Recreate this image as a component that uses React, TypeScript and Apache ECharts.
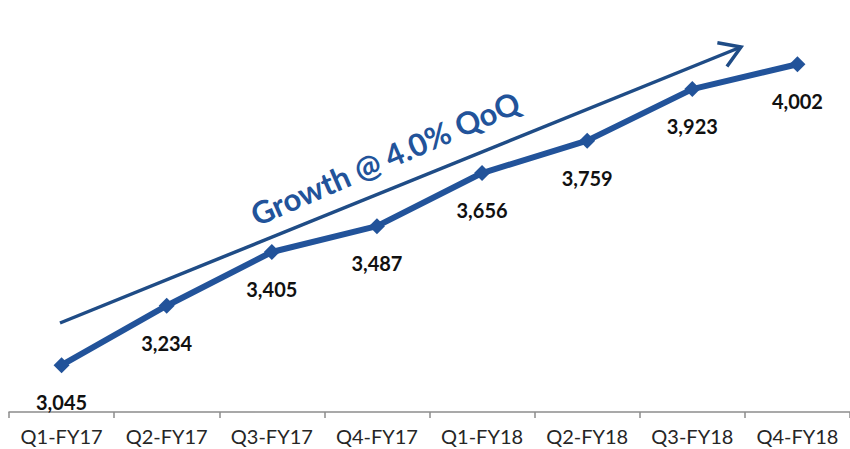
import React, { useEffect, useRef } from "react";
import * as echarts from "echarts";

const categories = ["Q1-FY17", "Q2-FY17", "Q3-FY17", "Q4-FY17", "Q1-FY18", "Q2-FY18", "Q3-FY18", "Q4-FY18"];
const values = [3045, 3234, 3405, 3487, 3656, 3759, 3923, 4002];
const annotation = "Growth @ 4.0% QoQ";

const LINE_COLOR = "#22539A";
const ARROW_COLOR = "#1F4C86";
const FONT = "Lato, 'Noto Sans', sans-serif";

export default function App() {
  const ref = useRef<HTMLDivElement>(null);
  useEffect(() => {
    if (!ref.current) return;
    const chart = echarts.init(ref.current, undefined, { renderer: "svg" });
    // arrow geometry
    const x1 = 60, y1 = 323, x2 = 741, y2 = 47;
    const ang = Math.atan2(y2 - y1, x2 - x1);
    const back = ang + Math.PI;
    const spread = 0.56, len = 24;
    const a1 = [x2 + len * Math.cos(back + spread), y2 + len * Math.sin(back + spread)];
    const a2 = [x2 + len * Math.cos(back - spread), y2 + len * Math.sin(back - spread)];
    chart.setOption({
      animation: false,
      backgroundColor: "#ffffff",
      grid: { left: 9, width: 842, top: 2, bottom: 37, containLabel: false },
      xAxis: {
        type: "category",
        data: categories,
        boundaryGap: true,
        axisLine: { lineStyle: { color: "#8c8c8c", width: 1.5 } },
        axisTick: { show: true, interval: 0, length: 6, lineStyle: { color: "#8c8c8c", width: 1.5 } },
        axisLabel: { interval: 0, color: "#262626", fontSize: 20, fontFamily: FONT, margin: 14 },
      },
      yAxis: {
        type: "value",
        min: 2896,
        max: 4200,
        show: false,
        splitLine: { show: false },
      },
      series: [
        {
          type: "line",
          data: values,
          symbol: "diamond",
          symbolSize: 16,
          lineStyle: { color: LINE_COLOR, width: 6 },
          itemStyle: { color: LINE_COLOR },
          label: {
            show: true,
            position: "bottom",
            distance: 19,
            color: "#111111",
            fontSize: 20,
            fontWeight: "bold",
            fontFamily: FONT,
            formatter: (p: any) => Number(p.value).toLocaleString("en-US"),
          },
        },
      ],
      graphic: [
        { type: "line", shape: { x1, y1, x2, y2 }, style: { stroke: ARROW_COLOR, lineWidth: 3.5 } },
        {
          type: "polyline",
          shape: { points: [a1, [x2, y2], a2] },
          style: { stroke: ARROW_COLOR, lineWidth: 3.5, fill: "none" },
        },
        {
          type: "text",
          x: 385,
          y: 158,
          rotation: (23.5 * Math.PI) / 180,
          style: {
            text: annotation,
            fill: LINE_COLOR,
            font: `bold 31px ${FONT}`,
            textAlign: "center",
            textVerticalAlign: "middle",
          },
        },
      ],
    });
    return () => chart.dispose();
  }, []);
  return <div ref={ref} style={{ position: "fixed", left: 0, top: 0, width: 850, height: 449 }} />;
}
